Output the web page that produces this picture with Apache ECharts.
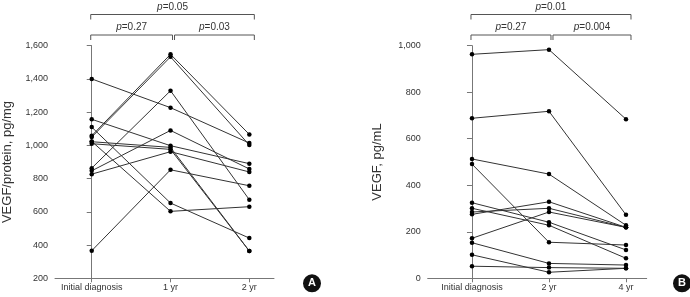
<!DOCTYPE html>
<html>
<head>
<meta charset="utf-8">
<script src="https://cdn.jsdelivr.net/npm/echarts@6/dist/echarts.min.js"></script>
<style>
html,body{margin:0;padding:0;background:#fff;}
#chart{width:690px;height:297px;}
</style>
</head>
<body>
<div id="chart"></div>
<script>
// panel A : VEGF/protein
var TIMES_A=['Initial diagnosis','1 yr','2 yr'];
var INIT_A=[1400,1058,1050,863,847,827,1157,1110,1024,1022,1010,366];
var YR1_A=[1227,1548,1533,1329,1090,962,998,653,603,988,976,853];
var YR2_A=[1014,1066,1002,673,858,840,890,442,631,364,364,757];
var P_A=['0.27','0.03','0.05'];

// panel B : VEGF pg/mL
var TIMES_B=['Initial diagnosis','2 yr','4 yr'];
var INIT_B=[963,688,513,491,325,301,285,275,172,153,101,52];
var YR2_B=[983,718,448,155,241,228,301,329,285,64,26,46];
var YR4_B=[684,273,228,143,122,86,219,219,219,57,43,43];
var P_B=['0.27','0.004','0.01'];

var AXIS_COLOR='#777';
var TEXT_COLOR='#333';
var SANS='"Liberation Sans",Arial,sans-serif';

var chart=echarts.init(document.getElementById('chart'),null,{renderer:'canvas'});

function xAxisCfg(idx,names,min,max){
	var pos=names.map(function(n,i){return i;});
	return {
		type:'value',gridIndex:idx,min:min,max:max,
		axisLine:{show:true,onZero:false,lineStyle:{color:AXIS_COLOR,width:1}},
		axisTick:{show:true,customValues:pos,length:4,lineStyle:{color:AXIS_COLOR}},
		axisLabel:{customValues:pos,color:TEXT_COLOR,fontSize:9,fontFamily:SANS,margin:5,
			formatter:function(v){return names[Math.round(v)];}},
		splitLine:{show:false}
	};
}
function yAxisCfg(idx,name,min,max,gap){
	return {
		type:'value',gridIndex:idx,min:min,max:max,interval:200,
		name:name,nameLocation:'middle',nameGap:gap,
		nameTextStyle:{color:TEXT_COLOR,fontSize:13,fontFamily:SANS},
		axisLine:{show:true,lineStyle:{color:AXIS_COLOR,width:1}},
		axisTick:{show:true,length:5,lineStyle:{color:AXIS_COLOR}},
		axisLabel:{color:TEXT_COLOR,fontSize:9,fontFamily:SANS,margin:7,
			formatter:function(v){return v.toLocaleString('en-US');}},
		splitLine:{show:false}
	};
}
function subjectSeries(idx,a,b,c){
	var list=[];
	for(var i=0;i<a.length;i++){
		list.push({
			type:'line',xAxisIndex:idx,yAxisIndex:idx,
			data:[[0,a[i]],[1,b[i]],[2,c[i]]],
			symbol:'circle',symbolSize:4.5,
			itemStyle:{color:'#000'},
			lineStyle:{color:'#333',width:1},
			silent:true
		});
	}
	return list;
}

var option={
	animation:false,
	grid:[
		{left:55,top:45.7,width:219,height:232.6},
		{left:427.7,top:45.7,width:219,height:232.6}
	],
	xAxis:[
		xAxisCfg(0,TIMES_A,-0.466,2.313),
		xAxisCfg(1,TIMES_B,-0.575,2.269)
	],
	yAxis:[
		yAxisCfg(0,'VEGF/protein, pg/mg',200,1600,41),
		yAxisCfg(1,'VEGF, pg/mL',0,1000,44)
	],
	series:subjectSeries(0,INIT_A,YR1_A,YR2_A).concat(subjectSeries(1,INIT_B,YR2_B,YR4_B))
};
chart.setOption(option);

// significance brackets and panel letters, placed from the axis scales
function bracket(x1,x2,y){
	return {type:'polyline',silent:true,
		shape:{points:[[x1,y+5],[x1,y],[x2,y],[x2,y+5]]},
		style:{stroke:'#555',lineWidth:1,fill:null}};
}
function pText(x,y,val){
	return {type:'text',silent:true,x:x,y:y,
		style:{text:'{i|p}='+val,align:'center',verticalAlign:'middle',
			fill:TEXT_COLOR,fontSize:10,fontFamily:SANS,
			rich:{i:{fontStyle:'italic',fontSize:10,fontFamily:SANS,fill:TEXT_COLOR}}}};
}
function letter(cx,cy,ch){
	return [
		{type:'circle',silent:true,shape:{cx:cx,cy:cy,r:9},style:{fill:'#111'}},
		{type:'text',silent:true,x:cx,y:cy,
			style:{text:ch,align:'center',verticalAlign:'middle',fill:'#fff',
				fontSize:11,fontWeight:'bold',fontFamily:SANS}}
	];
}
function panelMarks(idx,pv,letterX){
	var x0=chart.convertToPixel({xAxisIndex:idx},0);
	var x1=chart.convertToPixel({xAxisIndex:idx},1);
	var x2=chart.convertToPixel({xAxisIndex:idx},2);
	var left=x0-1, right=x2+5;
	var list=[
		bracket(left,right,14.5),
		bracket(left,x1+2,35),
		bracket(x1+4,right,35),
		pText((left+right)/2,7,pv[2]),
		pText((left+x1+2)/2,27.5,pv[0]),
		pText((x1+4+right)/2,27.5,pv[1])
	];
	var y0=chart.convertToPixel({yAxisIndex:idx},idx==0?200:0);
	return list.concat(letter(letterX,y0+5,idx==0?'A':'B'));
}
chart.setOption({graphic:panelMarks(0,P_A,312).concat(panelMarks(1,P_B,682))});
</script>
</body>
</html>
